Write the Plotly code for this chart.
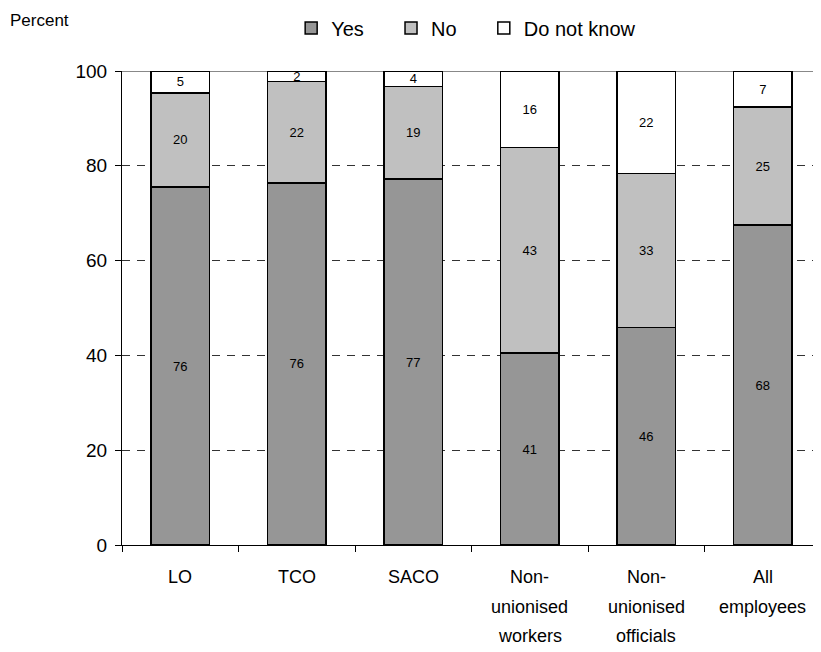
import plotly.graph_objects as go

categories = ["LO", "TCO", "SACO", "Non-\nunionised\nworkers", "Non-\nunionised\nofficials", "All\nemployees"]
cat_keys = ["LO", "TCO", "SACO", "NUW", "NUO", "ALL"]
yes_vals = [75.5, 76.4, 77.2, 40.5, 45.9, 67.5]
no_vals = [19.9, 21.4, 19.5, 43.4, 32.5, 24.9]
dk_vals = [4.6, 2.2, 3.3, 16.1, 21.6, 7.6]
yes_labels = ["76", "76", "77", "41", "46", "68"]
no_labels = ["20", "22", "19", "43", "33", "25"]
dk_labels = ["5", "2", "4", "16", "22", "7"]
y_ticks = [0, 20, 40, 60, 80, 100]
series_names = ["Yes", "No", "Do not know"]
series_colors = ["#969696", "#C0C0C0", "#FFFFFF"]

FONT = "Liberation Sans, Arial, sans-serif"
PAD = "\u00a0" * 4  # extra spacing between legend entries

fig = go.Figure()
for name, vals, labels, col in zip(series_names, [yes_vals, no_vals, dk_vals],
                                   [yes_labels, no_labels, dk_labels], series_colors):
    fig.add_trace(go.Bar(
        x=cat_keys, y=vals, name=name + PAD, text=labels,
        textposition="inside", insidetextanchor="middle", textangle=0,
        textfont=dict(size=13, color="black", family=FONT),
        marker=dict(color=col, line=dict(color="black", width=1.5)),
        width=0.5,
    ))

annotations = [dict(text="Percent", x=-0.163, xref="paper", xanchor="left",
                    y=1.106, yref="paper", yanchor="middle", showarrow=False,
                    font=dict(size=17, family=FONT, color="black"))]
for key, cat in zip(cat_keys, categories):
    for i, line in enumerate(cat.split("\n")):
        annotations.append(dict(text=line, x=key, xref="x", y=0, yref="paper",
                                yanchor="middle", yshift=-(32 + 29.5 * i),
                                showarrow=False,
                                font=dict(size=18, family=FONT, color="black")))

# page body has an 8px margin, so the figure is sized 8px smaller each way
fig.update_layout(
    barmode="stack",
    width=813, height=644,
    margin=dict(l=114, r=0, t=63, b=107),
    paper_bgcolor="white", plot_bgcolor="white",
    font=dict(family=FONT, color="black"),
    uniformtext=dict(minsize=13, mode="show"),
    legend=dict(orientation="h", x=0.242, xanchor="left", y=1.132, yanchor="top",
                font=dict(size=20, family=FONT), itemwidth=30, traceorder="normal"),
    annotations=annotations,
    xaxis=dict(showticklabels=False, showline=True, linecolor="black", linewidth=1,
               ticks="outside", ticklen=6, tickcolor="black", tickson="boundaries",
               range=[-0.5, 5.5], showgrid=False),
    yaxis=dict(range=[0, 100], tickvals=y_ticks, showline=True, linecolor="black",
               linewidth=1, ticks="outside", ticklen=6, tickcolor="black",
               tickfont=dict(size=19, family=FONT), ticklabelstandoff=4,
               showgrid=True, gridcolor="#333333",
               griddash="8px,7px", gridwidth=1, zeroline=False),
    shapes=[dict(type="line", xref="paper", yref="y", x0=0, x1=1, y0=100, y1=100,
                 line=dict(color="#888888", width=2), layer="between")],
)

fig.write_html("out.html")
